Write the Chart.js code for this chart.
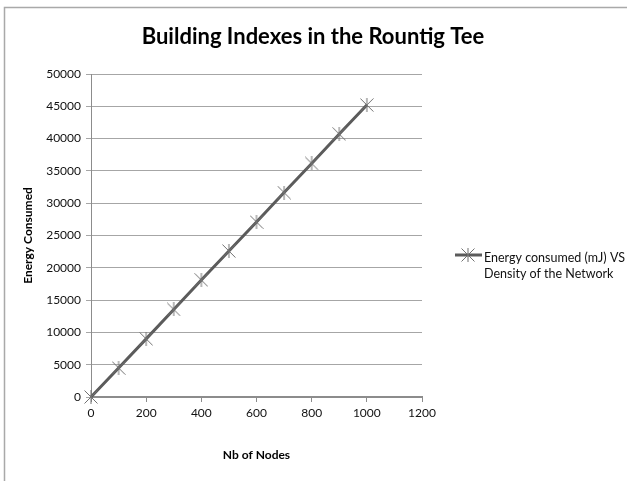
<!DOCTYPE html>
<html>
<head>
<meta charset="utf-8">
<script src="https://cdn.jsdelivr.net/npm/chart.js@4/dist/chart.umd.min.js"></script>
<style>
  html, body { margin: 0; padding: 0; background: #fff; }
  #wrap { width: 627px; height: 481px; position: relative; }
</style>
</head>
<body>
<div id="wrap"><canvas id="chart" width="627" height="481"></canvas></div>
<script>
// values
const nodeCounts = [0, 100, 200, 300, 400, 500, 600, 700, 800, 900, 1000];
const energyValues = [0, 4500, 9000, 13550, 18100, 22600, 27100, 31650, 36150, 40700, 45200];
const seriesLabel = ['Energy consumed (mJ) VS', 'Density of the Network'];
const chartTitle = 'Building Indexes in the Rountig Tee';
const xTitle = 'Nb of Nodes';
const yTitle = 'Energy Consumed';

const font = 'Lato';

// excel style star marker: an X with a vertical stroke
function starMarker(size, color) {
  const c = document.createElement('canvas');
  c.width = size; c.height = size;
  const g = c.getContext('2d');
  const m = size / 2, r = size / 2 - 0.5;
  g.strokeStyle = color;
  g.lineWidth = 1;
  g.beginPath();
  g.moveTo(m - r, m - r); g.lineTo(m + r, m + r);
  g.moveTo(m + r, m - r); g.lineTo(m - r, m + r);
  g.moveTo(m, m - r - 0.5); g.lineTo(m, m + r + 0.5);
  g.stroke();
  return c;
}
const marker = starMarker(14, '#707070');

const framePlugin = {
  id: 'frame',
  beforeDraw(chart) {
    const ctx = chart.ctx;
    ctx.save();
    ctx.strokeStyle = '#a9a9a9';
    ctx.lineWidth = 1.5;
    ctx.beginPath();
    ctx.moveTo(4.5, 481); ctx.lineTo(4.5, 7.5); ctx.lineTo(627, 7.5);
    ctx.stroke();
    // chart title, centred on the whole picture
    ctx.fillStyle = '#000';
    ctx.font = 'bold 22px ' + font;
    ctx.textAlign = 'center';
    ctx.textBaseline = 'middle';
    ctx.fillText(chartTitle, 313, 37);
    ctx.restore();
  }
};

const legendPlugin = {
  id: 'sideLegend',
  afterDraw(chart) {
    const ctx = chart.ctx;
    const ds = chart.data.datasets[0];
    const y = 255;
    ctx.save();
    ctx.strokeStyle = ds.borderColor;
    ctx.lineWidth = ds.borderWidth;
    ctx.beginPath();
    ctx.moveTo(455, y); ctx.lineTo(482, y);
    ctx.stroke();
    ctx.drawImage(marker, 468 - 7, y - 7);
    ctx.fillStyle = '#111';
    ctx.font = '12.5px ' + font;
    ctx.textBaseline = 'middle';
    seriesLabel.forEach((t, i) => ctx.fillText(t, 484, 258 + i * 16));
    ctx.restore();
  }
};

const plainNumber = v => String(v);

new Chart(document.getElementById('chart'), {
  type: 'line',
  data: {
    datasets: [{
      label: seriesLabel.join(' '),
      data: nodeCounts.map((n, i) => ({ x: n, y: energyValues[i] })),
      borderColor: '#5b5b5b',
      borderWidth: 3,
      pointStyle: marker,
      pointRadius: 7,
      tension: 0,
      clip: false
    }]
  },
  options: {
    responsive: false,
    animation: false,
    layout: { padding: { left: 0, right: 205, top: 74, bottom: 0 } },
    plugins: {
      legend: { display: false },
      tooltip: { enabled: false },
      title: { display: false }
    },
    scales: {
      x: {
        type: 'linear',
        min: 0, max: 1200,
        ticks: { stepSize: 200, color: '#111', font: { family: font, size: 12 }, padding: 4, maxRotation: 0, callback: plainNumber },
        grid: { drawOnChartArea: false, drawTicks: true, tickLength: 5, color: '#8c8c8c' },
        border: { color: '#8c8c8c', width: 2 },
        title: { display: true, text: xTitle, color: '#000', font: { family: font, size: 12, weight: 'bold', lineHeight: 1.2 }, padding: { top: 0, bottom: 19 } },
        afterFit(scale) { scale.height = 84; }
      },
      y: {
        min: 0, max: 50000,
        ticks: { stepSize: 5000, color: '#111', font: { family: font, size: 12 }, padding: 5, callback: plainNumber },
        grid: { color: '#a6a6a6', lineWidth: 1, drawTicks: true, tickLength: 5 },
        border: { color: '#8c8c8c', width: 1 },
        title: { display: true, text: yTitle, color: '#000', font: { family: font, size: 12, weight: 'bold', lineHeight: 1.2 }, padding: { top: 21, bottom: 0 } },
        afterFit(scale) { scale.width = 91; }
      }
    }
  },
  plugins: [framePlugin, legendPlugin]
});
</script>
</body>
</html>
